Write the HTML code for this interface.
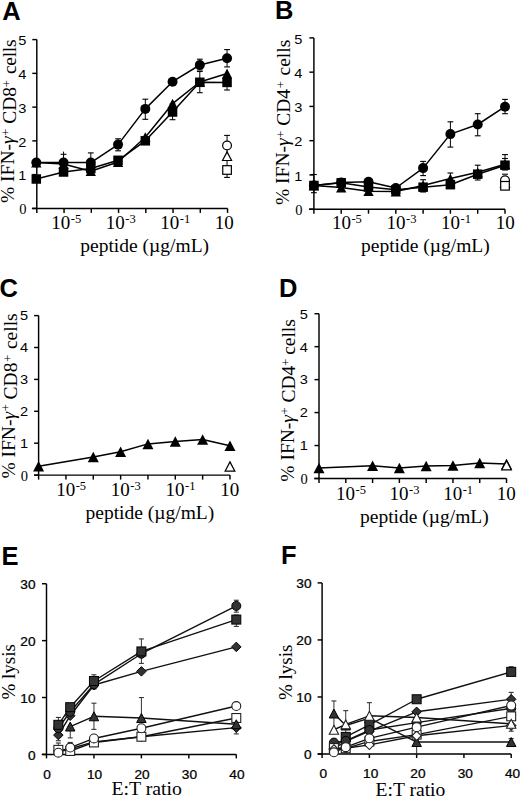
<!DOCTYPE html>
<html><head><meta charset="utf-8"><style>
html,body{margin:0;padding:0;background:#fff;}
svg{display:block;}
</style></head><body>
<svg width="520" height="801" viewBox="0 0 520 801">
<rect width="520" height="801" fill="#fff"/>
<path d="M36.80,39.60 V208.40 M31.90,208.40 H227.55" stroke="#000" stroke-width="1.45" fill="none"/>
<line x1="32.30" y1="208.40" x2="36.80" y2="208.40" stroke="#000" stroke-width="1.45"/>
<line x1="32.30" y1="174.64" x2="36.80" y2="174.64" stroke="#000" stroke-width="1.45"/>
<line x1="32.30" y1="140.88" x2="36.80" y2="140.88" stroke="#000" stroke-width="1.45"/>
<line x1="32.30" y1="107.12" x2="36.80" y2="107.12" stroke="#000" stroke-width="1.45"/>
<line x1="32.30" y1="73.36" x2="36.80" y2="73.36" stroke="#000" stroke-width="1.45"/>
<line x1="32.30" y1="39.60" x2="36.80" y2="39.60" stroke="#000" stroke-width="1.45"/>
<line x1="36.80" y1="208.40" x2="36.80" y2="212.90" stroke="#000" stroke-width="1.45"/>
<line x1="64.05" y1="208.40" x2="64.05" y2="212.90" stroke="#000" stroke-width="1.45"/>
<line x1="91.30" y1="208.40" x2="91.30" y2="212.90" stroke="#000" stroke-width="1.45"/>
<line x1="118.55" y1="208.40" x2="118.55" y2="212.90" stroke="#000" stroke-width="1.45"/>
<line x1="145.80" y1="208.40" x2="145.80" y2="212.90" stroke="#000" stroke-width="1.45"/>
<line x1="173.05" y1="208.40" x2="173.05" y2="212.90" stroke="#000" stroke-width="1.45"/>
<line x1="200.30" y1="208.40" x2="200.30" y2="212.90" stroke="#000" stroke-width="1.45"/>
<line x1="227.55" y1="208.40" x2="227.55" y2="212.90" stroke="#000" stroke-width="1.45"/>
<text transform="translate(26.40,180.30) scale(1.08,1)" font-family="Liberation Sans" font-size="13.5" text-anchor="end">1</text>
<text transform="translate(26.40,146.54) scale(1.08,1)" font-family="Liberation Sans" font-size="13.5" text-anchor="end">2</text>
<text transform="translate(26.40,112.78) scale(1.08,1)" font-family="Liberation Sans" font-size="13.5" text-anchor="end">3</text>
<text transform="translate(26.40,79.02) scale(1.08,1)" font-family="Liberation Sans" font-size="13.5" text-anchor="end">4</text>
<text transform="translate(26.40,45.26) scale(1.08,1)" font-family="Liberation Sans" font-size="13.5" text-anchor="end">5</text>
<text x="26.40" y="214.06" font-family="Liberation Serif" font-size="14.5" text-anchor="end" >0</text>
<text x="51.25" y="228.60" font-family="Liberation Serif" font-size="19" text-anchor="start" >10</text>
<text x="70.75" y="222.60" font-family="Liberation Serif" font-size="12.5" text-anchor="start" >-5</text>
<text x="105.75" y="228.60" font-family="Liberation Serif" font-size="19" text-anchor="start" >10</text>
<text x="125.25" y="222.60" font-family="Liberation Serif" font-size="12.5" text-anchor="start" >-3</text>
<text x="160.25" y="228.60" font-family="Liberation Serif" font-size="19" text-anchor="start" >10</text>
<text x="179.75" y="222.60" font-family="Liberation Serif" font-size="12.5" text-anchor="start" >-1</text>
<text x="214.75" y="228.60" font-family="Liberation Serif" font-size="19" text-anchor="start" >10</text>
<text x="80.30" y="251.80" font-family="Liberation Serif" font-size="19.5" text-anchor="start" >peptide (µg/mL)</text>
<text transform="translate(15.60,203.00) rotate(-90)" font-family="Liberation Serif" font-size="19.5"><tspan dy="-1.8">% IFN-</tspan><tspan font-style="italic">γ</tspan><tspan font-size="12.5" dy="-4.3" dx="0.5">+</tspan><tspan dy="6.1"> CD8</tspan><tspan font-size="12.5" dy="-4.3" dx="-0.3">+</tspan><tspan dy="4.3" dx="1.6" letter-spacing="-0.3"> cells</tspan></text>
<text x="2.30" y="20.20" font-family="Liberation Sans" font-size="25.5" text-anchor="start" font-weight="bold">A</text>
<line x1="63.55" y1="154.30" x2="63.55" y2="163.00" stroke="#000" stroke-width="1.0"/><line x1="60.65" y1="154.30" x2="66.45" y2="154.30" stroke="#000" stroke-width="1.1"/><line x1="60.65" y1="163.00" x2="66.45" y2="163.00" stroke="#000" stroke-width="1.1"/>
<line x1="90.80" y1="152.90" x2="90.80" y2="163.00" stroke="#000" stroke-width="1.0"/><line x1="87.90" y1="152.90" x2="93.70" y2="152.90" stroke="#000" stroke-width="1.1"/><line x1="87.90" y1="163.00" x2="93.70" y2="163.00" stroke="#000" stroke-width="1.1"/>
<line x1="118.05" y1="138.80" x2="118.05" y2="150.80" stroke="#000" stroke-width="1.0"/><line x1="115.15" y1="138.80" x2="120.95" y2="138.80" stroke="#000" stroke-width="1.1"/><line x1="115.15" y1="150.80" x2="120.95" y2="150.80" stroke="#000" stroke-width="1.1"/>
<line x1="145.30" y1="99.20" x2="145.30" y2="119.30" stroke="#000" stroke-width="1.0"/><line x1="142.40" y1="99.20" x2="148.20" y2="99.20" stroke="#000" stroke-width="1.1"/><line x1="142.40" y1="119.30" x2="148.20" y2="119.30" stroke="#000" stroke-width="1.1"/>
<line x1="172.55" y1="104.00" x2="172.55" y2="119.70" stroke="#000" stroke-width="1.0"/><line x1="169.65" y1="104.00" x2="175.45" y2="104.00" stroke="#000" stroke-width="1.1"/><line x1="169.65" y1="119.70" x2="175.45" y2="119.70" stroke="#000" stroke-width="1.1"/>
<line x1="199.80" y1="59.20" x2="199.80" y2="70.00" stroke="#000" stroke-width="1.0"/><line x1="196.90" y1="59.20" x2="202.70" y2="59.20" stroke="#000" stroke-width="1.1"/><line x1="196.90" y1="70.00" x2="202.70" y2="70.00" stroke="#000" stroke-width="1.1"/>
<line x1="227.05" y1="49.60" x2="227.05" y2="66.90" stroke="#000" stroke-width="1.0"/><line x1="224.15" y1="49.60" x2="229.95" y2="49.60" stroke="#000" stroke-width="1.1"/><line x1="224.15" y1="66.90" x2="229.95" y2="66.90" stroke="#000" stroke-width="1.1"/>
<line x1="199.80" y1="71.50" x2="199.80" y2="92.70" stroke="#000" stroke-width="1.0"/><line x1="196.90" y1="71.50" x2="202.70" y2="71.50" stroke="#000" stroke-width="1.1"/><line x1="196.90" y1="92.70" x2="202.70" y2="92.70" stroke="#000" stroke-width="1.1"/>
<line x1="227.05" y1="80.00" x2="227.05" y2="90.00" stroke="#000" stroke-width="1.0"/><line x1="224.15" y1="80.00" x2="229.95" y2="80.00" stroke="#000" stroke-width="1.1"/><line x1="224.15" y1="90.00" x2="229.95" y2="90.00" stroke="#000" stroke-width="1.1"/>
<line x1="227.05" y1="135.40" x2="227.05" y2="177.40" stroke="#000" stroke-width="1.0"/><line x1="224.15" y1="135.40" x2="229.95" y2="135.40" stroke="#000" stroke-width="1.1"/><line x1="224.15" y1="177.40" x2="229.95" y2="177.40" stroke="#000" stroke-width="1.1"/>
<line x1="63.55" y1="151.60" x2="63.55" y2="156.00" stroke="#000" stroke-width="1.0"/>
<polyline points="36.30,179.00 63.55,172.00 90.80,168.50 118.05,160.30 145.30,140.80 172.55,112.00 199.80,82.30 227.05,82.40" fill="none" stroke="#000" stroke-width="1.5" stroke-linejoin="round"/>
<polyline points="36.30,162.60 63.55,164.00 90.80,171.20 118.05,162.00 145.30,137.20 172.55,103.70 199.80,82.00 227.05,73.50" fill="none" stroke="#000" stroke-width="1.5" stroke-linejoin="round"/>
<polyline points="36.30,162.60 63.55,162.60 90.80,162.60 118.05,144.60 145.30,108.90 172.55,81.70 199.80,65.00 227.05,58.30" fill="none" stroke="#000" stroke-width="1.5" stroke-linejoin="round"/>
<rect x="31.55" y="174.25" width="9.50" height="9.50" fill="#000"/>
<rect x="58.80" y="167.25" width="9.50" height="9.50" fill="#000"/>
<rect x="86.05" y="163.75" width="9.50" height="9.50" fill="#000"/>
<rect x="113.30" y="155.55" width="9.50" height="9.50" fill="#000"/>
<rect x="140.55" y="136.05" width="9.50" height="9.50" fill="#000"/>
<rect x="167.80" y="107.25" width="9.50" height="9.50" fill="#000"/>
<rect x="195.05" y="77.55" width="9.50" height="9.50" fill="#000"/>
<rect x="222.30" y="77.65" width="9.50" height="9.50" fill="#000"/>
<polygon points="36.30,157.70 41.45,167.50 31.15,167.50" fill="#000"/>
<polygon points="63.55,159.10 68.69,168.90 58.40,168.90" fill="#000"/>
<polygon points="90.80,166.30 95.94,176.10 85.66,176.10" fill="#000"/>
<polygon points="118.05,157.10 123.19,166.90 112.91,166.90" fill="#000"/>
<polygon points="145.30,132.30 150.45,142.10 140.16,142.10" fill="#000"/>
<polygon points="172.55,98.80 177.70,108.60 167.41,108.60" fill="#000"/>
<polygon points="199.80,77.10 204.95,86.90 194.66,86.90" fill="#000"/>
<polygon points="227.05,68.60 232.20,78.40 221.91,78.40" fill="#000"/>
<circle cx="36.30" cy="162.60" r="5.00" fill="#000"/>
<circle cx="63.55" cy="162.60" r="5.00" fill="#000"/>
<circle cx="90.80" cy="162.60" r="5.00" fill="#000"/>
<circle cx="118.05" cy="144.60" r="5.00" fill="#000"/>
<circle cx="145.30" cy="108.90" r="5.00" fill="#000"/>
<circle cx="172.55" cy="81.70" r="5.00" fill="#000"/>
<circle cx="199.80" cy="65.00" r="5.00" fill="#000"/>
<circle cx="227.05" cy="58.30" r="5.00" fill="#000"/>
<circle cx="227.05" cy="145.50" r="4.40" fill="#fff" stroke="#000" stroke-width="1.2"/>
<polygon points="227.05,151.90 231.56,160.50 222.54,160.50" fill="#fff" stroke="#000" stroke-width="1.2" stroke-linejoin="miter"/>
<rect x="222.75" y="165.70" width="8.60" height="8.60" fill="#fff" stroke="#000" stroke-width="1.2"/>
<path d="M313.90,37.90 V209.20 M309.00,209.20 H505.00" stroke="#000" stroke-width="1.45" fill="none"/>
<line x1="309.40" y1="209.20" x2="313.90" y2="209.20" stroke="#000" stroke-width="1.45"/>
<line x1="309.40" y1="174.94" x2="313.90" y2="174.94" stroke="#000" stroke-width="1.45"/>
<line x1="309.40" y1="140.68" x2="313.90" y2="140.68" stroke="#000" stroke-width="1.45"/>
<line x1="309.40" y1="106.42" x2="313.90" y2="106.42" stroke="#000" stroke-width="1.45"/>
<line x1="309.40" y1="72.16" x2="313.90" y2="72.16" stroke="#000" stroke-width="1.45"/>
<line x1="309.40" y1="37.90" x2="313.90" y2="37.90" stroke="#000" stroke-width="1.45"/>
<line x1="313.90" y1="209.20" x2="313.90" y2="213.70" stroke="#000" stroke-width="1.45"/>
<line x1="341.20" y1="209.20" x2="341.20" y2="213.70" stroke="#000" stroke-width="1.45"/>
<line x1="368.50" y1="209.20" x2="368.50" y2="213.70" stroke="#000" stroke-width="1.45"/>
<line x1="395.80" y1="209.20" x2="395.80" y2="213.70" stroke="#000" stroke-width="1.45"/>
<line x1="423.10" y1="209.20" x2="423.10" y2="213.70" stroke="#000" stroke-width="1.45"/>
<line x1="450.40" y1="209.20" x2="450.40" y2="213.70" stroke="#000" stroke-width="1.45"/>
<line x1="477.70" y1="209.20" x2="477.70" y2="213.70" stroke="#000" stroke-width="1.45"/>
<line x1="505.00" y1="209.20" x2="505.00" y2="213.70" stroke="#000" stroke-width="1.45"/>
<text transform="translate(302.40,180.60) scale(1.08,1)" font-family="Liberation Sans" font-size="13.5" text-anchor="end">1</text>
<text transform="translate(302.40,146.34) scale(1.08,1)" font-family="Liberation Sans" font-size="13.5" text-anchor="end">2</text>
<text transform="translate(302.40,112.08) scale(1.08,1)" font-family="Liberation Sans" font-size="13.5" text-anchor="end">3</text>
<text transform="translate(302.40,77.82) scale(1.08,1)" font-family="Liberation Sans" font-size="13.5" text-anchor="end">4</text>
<text transform="translate(302.40,43.56) scale(1.08,1)" font-family="Liberation Sans" font-size="13.5" text-anchor="end">5</text>
<text x="302.40" y="214.86" font-family="Liberation Serif" font-size="14.5" text-anchor="end" >0</text>
<text x="331.90" y="229.00" font-family="Liberation Serif" font-size="19" text-anchor="start" >10</text>
<text x="351.40" y="223.00" font-family="Liberation Serif" font-size="12.5" text-anchor="start" >-5</text>
<text x="386.50" y="229.00" font-family="Liberation Serif" font-size="19" text-anchor="start" >10</text>
<text x="406.00" y="223.00" font-family="Liberation Serif" font-size="12.5" text-anchor="start" >-3</text>
<text x="441.10" y="229.00" font-family="Liberation Serif" font-size="19" text-anchor="start" >10</text>
<text x="460.60" y="223.00" font-family="Liberation Serif" font-size="12.5" text-anchor="start" >-1</text>
<text x="495.70" y="229.00" font-family="Liberation Serif" font-size="19" text-anchor="start" >10</text>
<text x="361.00" y="252.40" font-family="Liberation Serif" font-size="19.5" text-anchor="start" >peptide (µg/mL)</text>
<text transform="translate(289.70,205.00) rotate(-90)" font-family="Liberation Serif" font-size="19.5"><tspan dy="-0.8">% IFN-</tspan><tspan font-style="italic">γ</tspan><tspan font-size="12.5" dy="-4.3" dx="0.5">+</tspan><tspan dy="5.1"> CD4</tspan><tspan font-size="12.5" dy="-4.3" dx="0.8">+</tspan><tspan dy="4.3" dx="0.8" letter-spacing="0"> cells</tspan></text>
<text x="275.00" y="18.80" font-family="Liberation Sans" font-size="25.5" text-anchor="start" font-weight="bold">B</text>
<line x1="313.90" y1="174.50" x2="313.90" y2="192.70" stroke="#000" stroke-width="1.0"/><line x1="311.00" y1="174.50" x2="316.80" y2="174.50" stroke="#000" stroke-width="1.1"/><line x1="311.00" y1="192.70" x2="316.80" y2="192.70" stroke="#000" stroke-width="1.1"/>
<line x1="423.10" y1="161.40" x2="423.10" y2="175.60" stroke="#000" stroke-width="1.0"/><line x1="420.20" y1="161.40" x2="426.00" y2="161.40" stroke="#000" stroke-width="1.1"/><line x1="420.20" y1="175.60" x2="426.00" y2="175.60" stroke="#000" stroke-width="1.1"/>
<line x1="450.40" y1="121.80" x2="450.40" y2="147.10" stroke="#000" stroke-width="1.0"/><line x1="447.50" y1="121.80" x2="453.30" y2="121.80" stroke="#000" stroke-width="1.1"/><line x1="447.50" y1="147.10" x2="453.30" y2="147.10" stroke="#000" stroke-width="1.1"/>
<line x1="477.70" y1="113.70" x2="477.70" y2="135.80" stroke="#000" stroke-width="1.0"/><line x1="474.80" y1="113.70" x2="480.60" y2="113.70" stroke="#000" stroke-width="1.1"/><line x1="474.80" y1="135.80" x2="480.60" y2="135.80" stroke="#000" stroke-width="1.1"/>
<line x1="505.00" y1="99.40" x2="505.00" y2="113.70" stroke="#000" stroke-width="1.0"/><line x1="502.10" y1="99.40" x2="507.90" y2="99.40" stroke="#000" stroke-width="1.1"/><line x1="502.10" y1="113.70" x2="507.90" y2="113.70" stroke="#000" stroke-width="1.1"/>
<line x1="505.00" y1="154.60" x2="505.00" y2="170.00" stroke="#000" stroke-width="1.0"/><line x1="502.10" y1="154.60" x2="507.90" y2="154.60" stroke="#000" stroke-width="1.1"/><line x1="502.10" y1="170.00" x2="507.90" y2="170.00" stroke="#000" stroke-width="1.1"/>
<line x1="423.10" y1="179.70" x2="423.10" y2="192.00" stroke="#000" stroke-width="1.0"/><line x1="420.20" y1="179.70" x2="426.00" y2="179.70" stroke="#000" stroke-width="1.1"/><line x1="420.20" y1="192.00" x2="426.00" y2="192.00" stroke="#000" stroke-width="1.1"/>
<line x1="477.70" y1="165.20" x2="477.70" y2="180.00" stroke="#000" stroke-width="1.0"/><line x1="474.80" y1="165.20" x2="480.60" y2="165.20" stroke="#000" stroke-width="1.1"/><line x1="474.80" y1="180.00" x2="480.60" y2="180.00" stroke="#000" stroke-width="1.1"/>
<line x1="450.40" y1="173.00" x2="450.40" y2="186.00" stroke="#000" stroke-width="1.0"/><line x1="447.50" y1="173.00" x2="453.30" y2="173.00" stroke="#000" stroke-width="1.1"/><line x1="447.50" y1="186.00" x2="453.30" y2="186.00" stroke="#000" stroke-width="1.1"/>
<line x1="502.10" y1="158.50" x2="507.90" y2="158.50" stroke="#000" stroke-width="1.1"/>
<line x1="502.10" y1="174.20" x2="507.90" y2="174.20" stroke="#000" stroke-width="1.1"/>
<polyline points="313.90,185.50 341.20,187.60 368.50,191.20 395.80,191.60 423.10,185.50 450.40,178.60 477.70,172.30 505.00,164.20" fill="none" stroke="#000" stroke-width="1.5" stroke-linejoin="round"/>
<polyline points="313.90,185.50 341.20,182.80 368.50,187.00 395.80,189.80 423.10,187.20 450.40,184.70 477.70,174.20 505.00,165.20" fill="none" stroke="#000" stroke-width="1.5" stroke-linejoin="round"/>
<polyline points="313.90,185.50 341.20,182.60 368.50,181.70 395.80,188.00 423.10,168.10 450.40,134.10 477.70,124.50 505.00,106.70" fill="none" stroke="#000" stroke-width="1.5" stroke-linejoin="round"/>
<polygon points="313.90,180.60 319.04,190.40 308.75,190.40" fill="#000"/>
<polygon points="341.20,182.70 346.34,192.50 336.06,192.50" fill="#000"/>
<polygon points="368.50,186.30 373.64,196.10 363.36,196.10" fill="#000"/>
<polygon points="395.80,186.70 400.94,196.50 390.65,196.50" fill="#000"/>
<polygon points="423.10,180.60 428.24,190.40 417.95,190.40" fill="#000"/>
<polygon points="450.40,173.70 455.54,183.50 445.25,183.50" fill="#000"/>
<polygon points="477.70,167.40 482.84,177.20 472.56,177.20" fill="#000"/>
<polygon points="505.00,159.30 510.14,169.10 499.86,169.10" fill="#000"/>
<rect x="309.15" y="180.75" width="9.50" height="9.50" fill="#000"/>
<rect x="336.45" y="178.05" width="9.50" height="9.50" fill="#000"/>
<rect x="363.75" y="182.25" width="9.50" height="9.50" fill="#000"/>
<rect x="391.05" y="185.05" width="9.50" height="9.50" fill="#000"/>
<rect x="418.35" y="182.45" width="9.50" height="9.50" fill="#000"/>
<rect x="445.65" y="179.95" width="9.50" height="9.50" fill="#000"/>
<rect x="472.95" y="169.45" width="9.50" height="9.50" fill="#000"/>
<rect x="500.25" y="160.45" width="9.50" height="9.50" fill="#000"/>
<circle cx="313.90" cy="185.50" r="5.00" fill="#000"/>
<circle cx="341.20" cy="182.60" r="5.00" fill="#000"/>
<circle cx="368.50" cy="181.70" r="5.00" fill="#000"/>
<circle cx="395.80" cy="188.00" r="5.00" fill="#000"/>
<circle cx="423.10" cy="168.10" r="5.00" fill="#000"/>
<circle cx="450.40" cy="134.10" r="5.00" fill="#000"/>
<circle cx="477.70" cy="124.50" r="5.00" fill="#000"/>
<circle cx="505.00" cy="106.70" r="5.00" fill="#000"/>
<polygon points="505.00,178.70 509.51,187.30 500.49,187.30" fill="#fff" stroke="#000" stroke-width="1.2" stroke-linejoin="miter"/>
<circle cx="505.00" cy="180.30" r="4.40" fill="#fff" stroke="#000" stroke-width="1.2"/>
<rect x="500.70" y="181.50" width="8.60" height="8.60" fill="#fff" stroke="#000" stroke-width="1.2"/>
<path d="M38.60,315.60 V475.10 M34.20,475.10 H229.98" stroke="#000" stroke-width="1.45" fill="none"/>
<line x1="34.10" y1="475.10" x2="38.60" y2="475.10" stroke="#000" stroke-width="1.45"/>
<line x1="34.10" y1="443.20" x2="38.60" y2="443.20" stroke="#000" stroke-width="1.45"/>
<line x1="34.10" y1="411.30" x2="38.60" y2="411.30" stroke="#000" stroke-width="1.45"/>
<line x1="34.10" y1="379.40" x2="38.60" y2="379.40" stroke="#000" stroke-width="1.45"/>
<line x1="34.10" y1="347.50" x2="38.60" y2="347.50" stroke="#000" stroke-width="1.45"/>
<line x1="34.10" y1="315.60" x2="38.60" y2="315.60" stroke="#000" stroke-width="1.45"/>
<line x1="38.60" y1="475.10" x2="38.60" y2="479.60" stroke="#000" stroke-width="1.45"/>
<line x1="65.94" y1="475.10" x2="65.94" y2="479.60" stroke="#000" stroke-width="1.45"/>
<line x1="93.28" y1="475.10" x2="93.28" y2="479.60" stroke="#000" stroke-width="1.45"/>
<line x1="120.62" y1="475.10" x2="120.62" y2="479.60" stroke="#000" stroke-width="1.45"/>
<line x1="147.96" y1="475.10" x2="147.96" y2="479.60" stroke="#000" stroke-width="1.45"/>
<line x1="175.30" y1="475.10" x2="175.30" y2="479.60" stroke="#000" stroke-width="1.45"/>
<line x1="202.64" y1="475.10" x2="202.64" y2="479.60" stroke="#000" stroke-width="1.45"/>
<line x1="229.98" y1="475.10" x2="229.98" y2="479.60" stroke="#000" stroke-width="1.45"/>
<text transform="translate(28.10,448.06) scale(1.08,1)" font-family="Liberation Sans" font-size="13.5" text-anchor="end">1</text>
<text transform="translate(28.10,416.16) scale(1.08,1)" font-family="Liberation Sans" font-size="13.5" text-anchor="end">2</text>
<text transform="translate(28.10,384.26) scale(1.08,1)" font-family="Liberation Sans" font-size="13.5" text-anchor="end">3</text>
<text transform="translate(28.10,352.36) scale(1.08,1)" font-family="Liberation Sans" font-size="13.5" text-anchor="end">4</text>
<text transform="translate(28.10,320.46) scale(1.08,1)" font-family="Liberation Sans" font-size="13.5" text-anchor="end">5</text>
<text x="28.10" y="480.76" font-family="Liberation Serif" font-size="14.5" text-anchor="end" >0</text>
<text x="56.14" y="495.80" font-family="Liberation Serif" font-size="19" text-anchor="start" >10</text>
<text x="75.64" y="489.80" font-family="Liberation Serif" font-size="12.5" text-anchor="start" >-5</text>
<text x="110.82" y="495.80" font-family="Liberation Serif" font-size="19" text-anchor="start" >10</text>
<text x="130.32" y="489.80" font-family="Liberation Serif" font-size="12.5" text-anchor="start" >-3</text>
<text x="165.50" y="495.80" font-family="Liberation Serif" font-size="19" text-anchor="start" >10</text>
<text x="185.00" y="489.80" font-family="Liberation Serif" font-size="12.5" text-anchor="start" >-1</text>
<text x="220.18" y="495.80" font-family="Liberation Serif" font-size="19" text-anchor="start" >10</text>
<text x="85.50" y="518.70" font-family="Liberation Serif" font-size="19.5" text-anchor="start" >peptide (µg/mL)</text>
<text transform="translate(16.60,478.60) rotate(-90)" font-family="Liberation Serif" font-size="19.5"><tspan dy="-2.0">% IFN-</tspan><tspan font-style="italic">γ</tspan><tspan font-size="12.5" dy="-4.3" dx="0.5">+</tspan><tspan dy="6.3"> CD8</tspan><tspan font-size="12.5" dy="-4.3" dx="0.8">+</tspan><tspan dy="4.3" dx="0.8" letter-spacing="0"> cells</tspan></text>
<text x="-0.60" y="297.20" font-family="Liberation Sans" font-size="25.5" text-anchor="start" font-weight="bold">C</text>
<polyline points="38.60,466.20 93.28,457.00 120.62,451.70 147.96,443.90 175.30,441.50 202.64,439.60 229.98,445.80" fill="none" stroke="#000" stroke-width="1.5" stroke-linejoin="round"/>
<polygon points="38.60,460.95 44.11,471.45 33.09,471.45" fill="#000"/>
<polygon points="93.28,451.75 98.79,462.25 87.77,462.25" fill="#000"/>
<polygon points="120.62,446.45 126.13,456.95 115.11,456.95" fill="#000"/>
<polygon points="147.96,438.65 153.47,449.15 142.45,449.15" fill="#000"/>
<polygon points="175.30,436.25 180.81,446.75 169.79,446.75" fill="#000"/>
<polygon points="202.64,434.35 208.15,444.85 197.13,444.85" fill="#000"/>
<polygon points="229.98,440.55 235.49,451.05 224.47,451.05" fill="#000"/>
<polygon points="229.98,461.85 234.86,471.15 225.10,471.15" fill="#fff" stroke="#000" stroke-width="1.2" stroke-linejoin="miter"/>
<path d="M319.00,313.70 V478.50 M314.20,478.50 H506.53" stroke="#000" stroke-width="1.45" fill="none"/>
<line x1="314.50" y1="478.50" x2="319.00" y2="478.50" stroke="#000" stroke-width="1.45"/>
<line x1="314.50" y1="445.54" x2="319.00" y2="445.54" stroke="#000" stroke-width="1.45"/>
<line x1="314.50" y1="412.58" x2="319.00" y2="412.58" stroke="#000" stroke-width="1.45"/>
<line x1="314.50" y1="379.62" x2="319.00" y2="379.62" stroke="#000" stroke-width="1.45"/>
<line x1="314.50" y1="346.66" x2="319.00" y2="346.66" stroke="#000" stroke-width="1.45"/>
<line x1="314.50" y1="313.70" x2="319.00" y2="313.70" stroke="#000" stroke-width="1.45"/>
<line x1="319.00" y1="478.50" x2="319.00" y2="483.00" stroke="#000" stroke-width="1.45"/>
<line x1="345.79" y1="478.50" x2="345.79" y2="483.00" stroke="#000" stroke-width="1.45"/>
<line x1="372.58" y1="478.50" x2="372.58" y2="483.00" stroke="#000" stroke-width="1.45"/>
<line x1="399.37" y1="478.50" x2="399.37" y2="483.00" stroke="#000" stroke-width="1.45"/>
<line x1="426.16" y1="478.50" x2="426.16" y2="483.00" stroke="#000" stroke-width="1.45"/>
<line x1="452.95" y1="478.50" x2="452.95" y2="483.00" stroke="#000" stroke-width="1.45"/>
<line x1="479.74" y1="478.50" x2="479.74" y2="483.00" stroke="#000" stroke-width="1.45"/>
<line x1="506.53" y1="478.50" x2="506.53" y2="483.00" stroke="#000" stroke-width="1.45"/>
<text transform="translate(307.80,450.40) scale(1.08,1)" font-family="Liberation Sans" font-size="13.5" text-anchor="end">1</text>
<text transform="translate(307.80,417.44) scale(1.08,1)" font-family="Liberation Sans" font-size="13.5" text-anchor="end">2</text>
<text transform="translate(307.80,384.48) scale(1.08,1)" font-family="Liberation Sans" font-size="13.5" text-anchor="end">3</text>
<text transform="translate(307.80,351.52) scale(1.08,1)" font-family="Liberation Sans" font-size="13.5" text-anchor="end">4</text>
<text transform="translate(307.80,318.56) scale(1.08,1)" font-family="Liberation Sans" font-size="13.5" text-anchor="end">5</text>
<text x="307.80" y="484.16" font-family="Liberation Serif" font-size="14.5" text-anchor="end" >0</text>
<text x="335.99" y="499.50" font-family="Liberation Serif" font-size="19" text-anchor="start" >10</text>
<text x="355.49" y="493.50" font-family="Liberation Serif" font-size="12.5" text-anchor="start" >-5</text>
<text x="389.57" y="499.50" font-family="Liberation Serif" font-size="19" text-anchor="start" >10</text>
<text x="409.07" y="493.50" font-family="Liberation Serif" font-size="12.5" text-anchor="start" >-3</text>
<text x="443.15" y="499.50" font-family="Liberation Serif" font-size="19" text-anchor="start" >10</text>
<text x="462.65" y="493.50" font-family="Liberation Serif" font-size="12.5" text-anchor="start" >-1</text>
<text x="496.73" y="499.50" font-family="Liberation Serif" font-size="19" text-anchor="start" >10</text>
<text x="360.00" y="522.70" font-family="Liberation Serif" font-size="19.5" text-anchor="start" >peptide (µg/mL)</text>
<text transform="translate(294.60,481.70) rotate(-90)" font-family="Liberation Serif" font-size="19.5"><tspan dy="-1.0">% IFN-</tspan><tspan font-style="italic">γ</tspan><tspan font-size="12.5" dy="-4.3" dx="0.5">+</tspan><tspan dy="5.3"> CD4</tspan><tspan font-size="12.5" dy="-4.3" dx="0.0">+</tspan><tspan dy="4.3" dx="-1.1" letter-spacing="0"> cells</tspan></text>
<text x="279.00" y="296.50" font-family="Liberation Sans" font-size="25.5" text-anchor="start" font-weight="bold">D</text>
<polyline points="319.00,468.00 372.58,465.70 399.37,468.00 426.16,466.00 452.95,465.60 479.74,463.10 506.53,464.00" fill="none" stroke="#000" stroke-width="1.5" stroke-linejoin="round"/>
<polygon points="319.00,462.75 324.51,473.25 313.49,473.25" fill="#000"/>
<polygon points="372.58,460.45 378.09,470.95 367.07,470.95" fill="#000"/>
<polygon points="399.37,462.75 404.88,473.25 393.86,473.25" fill="#000"/>
<polygon points="426.16,460.75 431.67,471.25 420.65,471.25" fill="#000"/>
<polygon points="452.95,460.35 458.46,470.85 447.44,470.85" fill="#000"/>
<polygon points="479.74,457.85 485.25,468.35 474.23,468.35" fill="#000"/>
<polygon points="506.53,458.75 512.04,469.25 501.02,469.25" fill="#000"/>
<polygon points="506.53,460.65 511.41,469.95 501.65,469.95" fill="#fff" stroke="#000" stroke-width="1.2" stroke-linejoin="miter"/>
<path d="M46.50,583.75 V754.40 M41.70,754.40 H236.30" stroke="#000" stroke-width="1.45" fill="none"/>
<line x1="42.00" y1="754.40" x2="46.50" y2="754.40" stroke="#000" stroke-width="1.45"/>
<text transform="translate(35.50,759.52) scale(1.12,1)" font-family="Liberation Sans" font-size="12.2" text-anchor="end" stroke="#000" stroke-width="0.25">0</text>
<line x1="42.00" y1="697.52" x2="46.50" y2="697.52" stroke="#000" stroke-width="1.45"/>
<text transform="translate(35.50,702.64) scale(1.12,1)" font-family="Liberation Sans" font-size="12.2" text-anchor="end" stroke="#000" stroke-width="0.25">10</text>
<line x1="42.00" y1="640.63" x2="46.50" y2="640.63" stroke="#000" stroke-width="1.45"/>
<text transform="translate(35.50,645.76) scale(1.12,1)" font-family="Liberation Sans" font-size="12.2" text-anchor="end" stroke="#000" stroke-width="0.25">20</text>
<line x1="42.00" y1="583.75" x2="46.50" y2="583.75" stroke="#000" stroke-width="1.45"/>
<text transform="translate(35.50,588.87) scale(1.12,1)" font-family="Liberation Sans" font-size="12.2" text-anchor="end" stroke="#000" stroke-width="0.25">30</text>
<line x1="46.50" y1="754.40" x2="46.50" y2="758.40" stroke="#000" stroke-width="1.45"/>
<text transform="translate(47.10,778.60) scale(1.12,1)" font-family="Liberation Sans" font-size="12.2" text-anchor="middle" stroke="#000" stroke-width="0.25">0</text>
<line x1="93.95" y1="754.40" x2="93.95" y2="758.40" stroke="#000" stroke-width="1.45"/>
<text transform="translate(94.55,778.60) scale(1.12,1)" font-family="Liberation Sans" font-size="12.2" text-anchor="middle" stroke="#000" stroke-width="0.25">10</text>
<line x1="141.40" y1="754.40" x2="141.40" y2="758.40" stroke="#000" stroke-width="1.45"/>
<text transform="translate(142.00,778.60) scale(1.12,1)" font-family="Liberation Sans" font-size="12.2" text-anchor="middle" stroke="#000" stroke-width="0.25">20</text>
<line x1="188.85" y1="754.40" x2="188.85" y2="758.40" stroke="#000" stroke-width="1.45"/>
<text transform="translate(189.45,778.60) scale(1.12,1)" font-family="Liberation Sans" font-size="12.2" text-anchor="middle" stroke="#000" stroke-width="0.25">30</text>
<line x1="236.30" y1="754.40" x2="236.30" y2="758.40" stroke="#000" stroke-width="1.45"/>
<text transform="translate(236.90,778.60) scale(1.12,1)" font-family="Liberation Sans" font-size="12.2" text-anchor="middle" stroke="#000" stroke-width="0.25">40</text>
<text x="111.50" y="795.00" font-family="Liberation Serif" font-size="19.8" text-anchor="start" >E:T ratio</text>
<text transform="translate(14.60,699.50) rotate(-90)" font-family="Liberation Serif" font-size="19">% lysis</text>
<text x="1.50" y="565.00" font-family="Liberation Sans" font-size="25.5" text-anchor="start" font-weight="bold">E</text>
<line x1="58.36" y1="740.75" x2="58.36" y2="717.43" stroke="#333" stroke-width="1.0"/><line x1="55.86" y1="740.75" x2="60.86" y2="740.75" stroke="#333" stroke-width="1.1"/><line x1="55.86" y1="717.43" x2="60.86" y2="717.43" stroke="#333" stroke-width="1.1"/>
<line x1="70.22" y1="737.90" x2="70.22" y2="726.53" stroke="#333" stroke-width="1.0"/><line x1="67.72" y1="737.90" x2="72.72" y2="737.90" stroke="#333" stroke-width="1.1"/><line x1="67.72" y1="726.53" x2="72.72" y2="726.53" stroke="#333" stroke-width="1.1"/>
<line x1="93.95" y1="729.37" x2="93.95" y2="703.20" stroke="#333" stroke-width="1.0"/><line x1="91.45" y1="729.37" x2="96.45" y2="729.37" stroke="#333" stroke-width="1.1"/><line x1="91.45" y1="703.20" x2="96.45" y2="703.20" stroke="#333" stroke-width="1.1"/>
<line x1="141.40" y1="717.43" x2="141.40" y2="697.52" stroke="#333" stroke-width="1.0"/><line x1="138.90" y1="717.43" x2="143.90" y2="717.43" stroke="#333" stroke-width="1.1"/><line x1="138.90" y1="697.52" x2="143.90" y2="697.52" stroke="#333" stroke-width="1.1"/>
<line x1="93.95" y1="688.98" x2="93.95" y2="674.76" stroke="#333" stroke-width="1.0"/><line x1="91.45" y1="688.98" x2="96.45" y2="688.98" stroke="#333" stroke-width="1.1"/><line x1="91.45" y1="674.76" x2="96.45" y2="674.76" stroke="#333" stroke-width="1.1"/>
<line x1="141.40" y1="663.39" x2="141.40" y2="638.93" stroke="#333" stroke-width="1.0"/><line x1="138.90" y1="663.39" x2="143.90" y2="663.39" stroke="#333" stroke-width="1.1"/><line x1="138.90" y1="638.93" x2="143.90" y2="638.93" stroke="#333" stroke-width="1.1"/>
<line x1="236.30" y1="612.19" x2="236.30" y2="600.25" stroke="#333" stroke-width="1.0"/><line x1="233.80" y1="612.19" x2="238.80" y2="612.19" stroke="#333" stroke-width="1.1"/><line x1="233.80" y1="600.25" x2="238.80" y2="600.25" stroke="#333" stroke-width="1.1"/>
<line x1="236.30" y1="626.41" x2="236.30" y2="615.04" stroke="#333" stroke-width="1.0"/><line x1="233.80" y1="626.41" x2="238.80" y2="626.41" stroke="#333" stroke-width="1.1"/><line x1="233.80" y1="615.04" x2="238.80" y2="615.04" stroke="#333" stroke-width="1.1"/>
<line x1="236.30" y1="733.92" x2="236.30" y2="725.39" stroke="#333" stroke-width="1.0"/><line x1="233.80" y1="733.92" x2="238.80" y2="733.92" stroke="#333" stroke-width="1.1"/><line x1="233.80" y1="725.39" x2="238.80" y2="725.39" stroke="#333" stroke-width="1.1"/>
<line x1="70.22" y1="752.69" x2="70.22" y2="742.45" stroke="#333" stroke-width="1.0"/><line x1="67.72" y1="752.69" x2="72.72" y2="752.69" stroke="#333" stroke-width="1.1"/><line x1="67.72" y1="742.45" x2="72.72" y2="742.45" stroke="#333" stroke-width="1.1"/>
<line x1="58.36" y1="754.40" x2="58.36" y2="743.02" stroke="#333" stroke-width="1.0"/><line x1="55.86" y1="754.40" x2="60.86" y2="754.40" stroke="#333" stroke-width="1.1"/><line x1="55.86" y1="743.02" x2="60.86" y2="743.02" stroke="#333" stroke-width="1.1"/>
<polyline points="58.36,750.99 70.22,748.71 93.95,741.89 141.40,736.77 236.30,727.66" fill="none" stroke="#111" stroke-width="1.4" stroke-linejoin="round"/>
<polyline points="58.36,749.85 70.22,750.99 93.95,742.45 141.40,736.77 236.30,717.99" fill="none" stroke="#111" stroke-width="1.4" stroke-linejoin="round"/>
<polyline points="58.36,752.69 70.22,747.57 93.95,738.47 141.40,728.23 236.30,706.05" fill="none" stroke="#111" stroke-width="1.4" stroke-linejoin="round"/>
<polyline points="70.22,726.53 93.95,716.29 141.40,717.99 236.30,724.25" fill="none" stroke="#111" stroke-width="1.4" stroke-linejoin="round"/>
<polyline points="58.36,735.06 70.22,715.72 93.95,685.00 141.40,671.35 236.30,646.89" fill="none" stroke="#111" stroke-width="1.4" stroke-linejoin="round"/>
<polyline points="58.36,728.23 70.22,711.74 93.95,684.43 141.40,653.72 236.30,605.93" fill="none" stroke="#111" stroke-width="1.4" stroke-linejoin="round"/>
<polyline points="58.36,724.82 70.22,707.19 93.95,681.02 141.40,651.44 236.30,619.59" fill="none" stroke="#111" stroke-width="1.4" stroke-linejoin="round"/>
<polygon points="58.36,746.24 63.11,750.99 58.36,755.74 53.61,750.99" fill="#333" stroke="#000" stroke-width="1.0"/>
<polygon points="70.22,743.96 74.97,748.71 70.22,753.46 65.47,748.71" fill="#333" stroke="#000" stroke-width="1.0"/>
<polygon points="93.95,737.14 98.70,741.89 93.95,746.64 89.20,741.89" fill="#333" stroke="#000" stroke-width="1.0"/>
<polygon points="141.40,732.02 146.15,736.77 141.40,741.52 136.65,736.77" fill="#333" stroke="#000" stroke-width="1.0"/>
<polygon points="236.30,722.91 241.05,727.66 236.30,732.41 231.55,727.66" fill="#333" stroke="#000" stroke-width="1.0"/>
<rect x="53.91" y="745.40" width="8.90" height="8.90" fill="#fff" stroke="#222" stroke-width="1.1"/>
<rect x="65.77" y="746.54" width="8.90" height="8.90" fill="#fff" stroke="#222" stroke-width="1.1"/>
<rect x="89.50" y="738.00" width="8.90" height="8.90" fill="#fff" stroke="#222" stroke-width="1.1"/>
<rect x="136.95" y="732.32" width="8.90" height="8.90" fill="#fff" stroke="#222" stroke-width="1.1"/>
<rect x="231.85" y="713.54" width="8.90" height="8.90" fill="#fff" stroke="#222" stroke-width="1.1"/>
<circle cx="58.36" cy="752.69" r="4.45" fill="#fff" stroke="#222" stroke-width="1.1"/>
<circle cx="70.22" cy="747.57" r="4.45" fill="#fff" stroke="#222" stroke-width="1.1"/>
<circle cx="93.95" cy="738.47" r="4.45" fill="#fff" stroke="#222" stroke-width="1.1"/>
<circle cx="141.40" cy="728.23" r="4.45" fill="#fff" stroke="#222" stroke-width="1.1"/>
<circle cx="236.30" cy="706.05" r="4.45" fill="#fff" stroke="#222" stroke-width="1.1"/>
<polygon points="70.22,722.03 74.95,731.03 65.50,731.03" fill="#333" stroke="#000" stroke-width="1.0" stroke-linejoin="miter"/>
<polygon points="93.95,711.79 98.67,720.79 89.23,720.79" fill="#333" stroke="#000" stroke-width="1.0" stroke-linejoin="miter"/>
<polygon points="141.40,713.49 146.12,722.49 136.68,722.49" fill="#333" stroke="#000" stroke-width="1.0" stroke-linejoin="miter"/>
<polygon points="236.30,719.75 241.03,728.75 231.58,728.75" fill="#333" stroke="#000" stroke-width="1.0" stroke-linejoin="miter"/>
<polygon points="58.36,730.31 63.11,735.06 58.36,739.81 53.61,735.06" fill="#333" stroke="#000" stroke-width="1.0"/>
<polygon points="70.22,710.97 74.97,715.72 70.22,720.47 65.47,715.72" fill="#333" stroke="#000" stroke-width="1.0"/>
<polygon points="93.95,680.25 98.70,685.00 93.95,689.75 89.20,685.00" fill="#333" stroke="#000" stroke-width="1.0"/>
<polygon points="141.40,666.60 146.15,671.35 141.40,676.10 136.65,671.35" fill="#333" stroke="#000" stroke-width="1.0"/>
<polygon points="236.30,642.14 241.05,646.89 236.30,651.64 231.55,646.89" fill="#333" stroke="#000" stroke-width="1.0"/>
<circle cx="58.36" cy="728.23" r="4.50" fill="#333" stroke="#000" stroke-width="1.0"/>
<circle cx="70.22" cy="711.74" r="4.50" fill="#333" stroke="#000" stroke-width="1.0"/>
<circle cx="93.95" cy="684.43" r="4.50" fill="#333" stroke="#000" stroke-width="1.0"/>
<circle cx="141.40" cy="653.72" r="4.50" fill="#333" stroke="#000" stroke-width="1.0"/>
<circle cx="236.30" cy="605.93" r="4.50" fill="#333" stroke="#000" stroke-width="1.0"/>
<rect x="53.86" y="720.32" width="9.00" height="9.00" fill="#333" stroke="#000" stroke-width="1.0"/>
<rect x="65.72" y="702.69" width="9.00" height="9.00" fill="#333" stroke="#000" stroke-width="1.0"/>
<rect x="89.45" y="676.52" width="9.00" height="9.00" fill="#333" stroke="#000" stroke-width="1.0"/>
<rect x="136.90" y="646.94" width="9.00" height="9.00" fill="#333" stroke="#000" stroke-width="1.0"/>
<rect x="231.80" y="615.09" width="9.00" height="9.00" fill="#333" stroke="#000" stroke-width="1.0"/>
<path d="M322.10,582.90 V754.00 M317.70,754.00 H511.20" stroke="#000" stroke-width="1.45" fill="none"/>
<line x1="317.60" y1="754.00" x2="322.10" y2="754.00" stroke="#000" stroke-width="1.45"/>
<text transform="translate(311.50,759.12) scale(1.12,1)" font-family="Liberation Sans" font-size="12.2" text-anchor="end" stroke="#000" stroke-width="0.25">0</text>
<line x1="317.60" y1="696.97" x2="322.10" y2="696.97" stroke="#000" stroke-width="1.45"/>
<text transform="translate(311.50,702.09) scale(1.12,1)" font-family="Liberation Sans" font-size="12.2" text-anchor="end" stroke="#000" stroke-width="0.25">10</text>
<line x1="317.60" y1="639.93" x2="322.10" y2="639.93" stroke="#000" stroke-width="1.45"/>
<text transform="translate(311.50,645.06) scale(1.12,1)" font-family="Liberation Sans" font-size="12.2" text-anchor="end" stroke="#000" stroke-width="0.25">20</text>
<line x1="317.60" y1="582.90" x2="322.10" y2="582.90" stroke="#000" stroke-width="1.45"/>
<text transform="translate(311.50,588.02) scale(1.12,1)" font-family="Liberation Sans" font-size="12.2" text-anchor="end" stroke="#000" stroke-width="0.25">30</text>
<line x1="322.10" y1="754.00" x2="322.10" y2="758.00" stroke="#000" stroke-width="1.45"/>
<text transform="translate(323.40,778.00) scale(1.12,1)" font-family="Liberation Sans" font-size="12.2" text-anchor="middle" stroke="#000" stroke-width="0.25">0</text>
<line x1="369.38" y1="754.00" x2="369.38" y2="758.00" stroke="#000" stroke-width="1.45"/>
<text transform="translate(370.68,778.00) scale(1.12,1)" font-family="Liberation Sans" font-size="12.2" text-anchor="middle" stroke="#000" stroke-width="0.25">10</text>
<line x1="416.65" y1="754.00" x2="416.65" y2="758.00" stroke="#000" stroke-width="1.45"/>
<text transform="translate(417.95,778.00) scale(1.12,1)" font-family="Liberation Sans" font-size="12.2" text-anchor="middle" stroke="#000" stroke-width="0.25">20</text>
<line x1="463.93" y1="754.00" x2="463.93" y2="758.00" stroke="#000" stroke-width="1.45"/>
<text transform="translate(465.23,778.00) scale(1.12,1)" font-family="Liberation Sans" font-size="12.2" text-anchor="middle" stroke="#000" stroke-width="0.25">30</text>
<line x1="511.20" y1="754.00" x2="511.20" y2="758.00" stroke="#000" stroke-width="1.45"/>
<text transform="translate(512.50,778.00) scale(1.12,1)" font-family="Liberation Sans" font-size="12.2" text-anchor="middle" stroke="#000" stroke-width="0.25">40</text>
<text x="375.50" y="795.80" font-family="Liberation Serif" font-size="19.6" text-anchor="start" >E:T ratio</text>
<text transform="translate(291.50,700.00) rotate(-90)" font-family="Liberation Serif" font-size="19">% lysis</text>
<text x="281.00" y="563.80" font-family="Liberation Sans" font-size="25.5" text-anchor="start" font-weight="bold">F</text>
<line x1="333.92" y1="731.19" x2="333.92" y2="700.96" stroke="#333" stroke-width="1.0"/><line x1="331.42" y1="731.19" x2="336.42" y2="731.19" stroke="#333" stroke-width="1.1"/><line x1="331.42" y1="700.96" x2="336.42" y2="700.96" stroke="#333" stroke-width="1.1"/>
<line x1="345.74" y1="736.89" x2="345.74" y2="710.65" stroke="#333" stroke-width="1.0"/><line x1="343.24" y1="736.89" x2="348.24" y2="736.89" stroke="#333" stroke-width="1.1"/><line x1="343.24" y1="710.65" x2="348.24" y2="710.65" stroke="#333" stroke-width="1.1"/>
<line x1="369.38" y1="728.34" x2="369.38" y2="702.67" stroke="#333" stroke-width="1.0"/><line x1="366.88" y1="728.34" x2="371.88" y2="728.34" stroke="#333" stroke-width="1.1"/><line x1="366.88" y1="702.67" x2="371.88" y2="702.67" stroke="#333" stroke-width="1.1"/>
<line x1="511.20" y1="675.29" x2="511.20" y2="666.74" stroke="#333" stroke-width="1.0"/><line x1="508.70" y1="675.29" x2="513.70" y2="675.29" stroke="#333" stroke-width="1.1"/><line x1="508.70" y1="666.74" x2="513.70" y2="666.74" stroke="#333" stroke-width="1.1"/>
<line x1="511.20" y1="703.81" x2="511.20" y2="692.40" stroke="#333" stroke-width="1.0"/><line x1="508.70" y1="703.81" x2="513.70" y2="703.81" stroke="#333" stroke-width="1.1"/><line x1="508.70" y1="692.40" x2="513.70" y2="692.40" stroke="#333" stroke-width="1.1"/>
<line x1="511.20" y1="731.19" x2="511.20" y2="722.63" stroke="#333" stroke-width="1.0"/><line x1="508.70" y1="731.19" x2="513.70" y2="731.19" stroke="#333" stroke-width="1.1"/><line x1="508.70" y1="722.63" x2="513.70" y2="722.63" stroke="#333" stroke-width="1.1"/>
<line x1="511.20" y1="744.87" x2="511.20" y2="738.60" stroke="#333" stroke-width="1.0"/><line x1="508.70" y1="744.87" x2="513.70" y2="744.87" stroke="#333" stroke-width="1.1"/><line x1="508.70" y1="738.60" x2="513.70" y2="738.60" stroke="#333" stroke-width="1.1"/>
<line x1="416.65" y1="754.00" x2="416.65" y2="739.74" stroke="#333" stroke-width="1.0"/><line x1="414.15" y1="754.00" x2="419.15" y2="754.00" stroke="#333" stroke-width="1.1"/><line x1="414.15" y1="739.74" x2="419.15" y2="739.74" stroke="#333" stroke-width="1.1"/>
<polyline points="333.92,713.51 345.74,725.48 369.38,718.07 416.65,742.02 511.20,742.02" fill="none" stroke="#111" stroke-width="1.4" stroke-linejoin="round"/>
<polyline points="333.92,748.30 345.74,741.45 369.38,731.19 416.65,711.80 511.20,699.25" fill="none" stroke="#111" stroke-width="1.4" stroke-linejoin="round"/>
<polyline points="333.92,748.30 345.74,736.89 369.38,724.91 416.65,699.25 511.20,671.87" fill="none" stroke="#111" stroke-width="1.4" stroke-linejoin="round"/>
<polyline points="333.92,742.59 345.74,740.88 369.38,730.05 416.65,722.63 511.20,708.37" fill="none" stroke="#111" stroke-width="1.4" stroke-linejoin="round"/>
<polyline points="333.92,748.01 345.74,748.30 369.38,741.45 416.65,734.61 511.20,716.36" fill="none" stroke="#111" stroke-width="1.4" stroke-linejoin="round"/>
<polyline points="333.92,749.44 345.74,748.30 369.38,744.87 416.65,735.75 511.20,725.48" fill="none" stroke="#111" stroke-width="1.4" stroke-linejoin="round"/>
<polyline points="333.92,752.29 345.74,747.16 369.38,738.32 416.65,727.19 511.20,705.52" fill="none" stroke="#111" stroke-width="1.4" stroke-linejoin="round"/>
<polyline points="333.92,729.76 345.74,724.34 369.38,715.79 416.65,717.50 511.20,723.77" fill="none" stroke="#111" stroke-width="1.4" stroke-linejoin="round"/>
<polygon points="333.92,709.01 338.64,718.01 329.19,718.01" fill="#333" stroke="#000" stroke-width="1.0" stroke-linejoin="miter"/>
<polygon points="345.74,720.98 350.46,729.98 341.01,729.98" fill="#333" stroke="#000" stroke-width="1.0" stroke-linejoin="miter"/>
<polygon points="369.38,713.57 374.10,722.57 364.65,722.57" fill="#333" stroke="#000" stroke-width="1.0" stroke-linejoin="miter"/>
<polygon points="416.65,737.52 421.38,746.52 411.93,746.52" fill="#333" stroke="#000" stroke-width="1.0" stroke-linejoin="miter"/>
<polygon points="511.20,737.52 515.93,746.52 506.48,746.52" fill="#333" stroke="#000" stroke-width="1.0" stroke-linejoin="miter"/>
<polygon points="333.92,743.55 338.67,748.30 333.92,753.05 329.17,748.30" fill="#333" stroke="#000" stroke-width="1.0"/>
<polygon points="345.74,736.70 350.49,741.45 345.74,746.20 340.99,741.45" fill="#333" stroke="#000" stroke-width="1.0"/>
<polygon points="369.38,726.44 374.12,731.19 369.38,735.94 364.62,731.19" fill="#333" stroke="#000" stroke-width="1.0"/>
<polygon points="416.65,707.05 421.40,711.80 416.65,716.55 411.90,711.80" fill="#333" stroke="#000" stroke-width="1.0"/>
<polygon points="511.20,694.50 515.95,699.25 511.20,704.00 506.45,699.25" fill="#333" stroke="#000" stroke-width="1.0"/>
<rect x="329.42" y="743.80" width="9.00" height="9.00" fill="#333" stroke="#000" stroke-width="1.0"/>
<rect x="341.24" y="732.39" width="9.00" height="9.00" fill="#333" stroke="#000" stroke-width="1.0"/>
<rect x="364.88" y="720.41" width="9.00" height="9.00" fill="#333" stroke="#000" stroke-width="1.0"/>
<rect x="412.15" y="694.75" width="9.00" height="9.00" fill="#333" stroke="#000" stroke-width="1.0"/>
<rect x="506.70" y="667.37" width="9.00" height="9.00" fill="#333" stroke="#000" stroke-width="1.0"/>
<circle cx="333.92" cy="742.59" r="4.50" fill="#333" stroke="#000" stroke-width="1.0"/>
<circle cx="345.74" cy="740.88" r="4.50" fill="#333" stroke="#000" stroke-width="1.0"/>
<circle cx="369.38" cy="730.05" r="4.50" fill="#333" stroke="#000" stroke-width="1.0"/>
<circle cx="416.65" cy="722.63" r="4.50" fill="#333" stroke="#000" stroke-width="1.0"/>
<circle cx="511.20" cy="708.37" r="4.50" fill="#333" stroke="#000" stroke-width="1.0"/>
<rect x="329.47" y="743.56" width="8.90" height="8.90" fill="#fff" stroke="#222" stroke-width="1.1"/>
<rect x="341.29" y="743.85" width="8.90" height="8.90" fill="#fff" stroke="#222" stroke-width="1.1"/>
<rect x="364.93" y="737.00" width="8.90" height="8.90" fill="#fff" stroke="#222" stroke-width="1.1"/>
<rect x="412.20" y="730.16" width="8.90" height="8.90" fill="#fff" stroke="#222" stroke-width="1.1"/>
<rect x="506.75" y="711.91" width="8.90" height="8.90" fill="#fff" stroke="#222" stroke-width="1.1"/>
<polygon points="333.92,744.74 338.62,749.44 333.92,754.14 329.22,749.44" fill="#fff" stroke="#222" stroke-width="1.1"/>
<polygon points="345.74,743.60 350.44,748.30 345.74,753.00 341.04,748.30" fill="#fff" stroke="#222" stroke-width="1.1"/>
<polygon points="369.38,740.17 374.07,744.87 369.38,749.57 364.68,744.87" fill="#fff" stroke="#222" stroke-width="1.1"/>
<polygon points="416.65,731.05 421.35,735.75 416.65,740.45 411.95,735.75" fill="#fff" stroke="#222" stroke-width="1.1"/>
<polygon points="511.20,720.78 515.90,725.48 511.20,730.18 506.50,725.48" fill="#fff" stroke="#222" stroke-width="1.1"/>
<circle cx="333.92" cy="752.29" r="4.45" fill="#fff" stroke="#222" stroke-width="1.1"/>
<circle cx="345.74" cy="747.16" r="4.45" fill="#fff" stroke="#222" stroke-width="1.1"/>
<circle cx="369.38" cy="738.32" r="4.45" fill="#fff" stroke="#222" stroke-width="1.1"/>
<circle cx="416.65" cy="727.19" r="4.45" fill="#fff" stroke="#222" stroke-width="1.1"/>
<circle cx="511.20" cy="705.52" r="4.45" fill="#fff" stroke="#222" stroke-width="1.1"/>
<polygon points="333.92,725.31 338.59,734.21 329.25,734.21" fill="#fff" stroke="#222" stroke-width="1.1" stroke-linejoin="miter"/>
<polygon points="345.74,719.89 350.41,728.79 341.06,728.79" fill="#fff" stroke="#222" stroke-width="1.1" stroke-linejoin="miter"/>
<polygon points="369.38,711.34 374.05,720.24 364.70,720.24" fill="#fff" stroke="#222" stroke-width="1.1" stroke-linejoin="miter"/>
<polygon points="416.65,713.05 421.32,721.95 411.98,721.95" fill="#fff" stroke="#222" stroke-width="1.1" stroke-linejoin="miter"/>
<polygon points="511.20,719.32 515.87,728.22 506.53,728.22" fill="#fff" stroke="#222" stroke-width="1.1" stroke-linejoin="miter"/>
</svg>
</body></html>
